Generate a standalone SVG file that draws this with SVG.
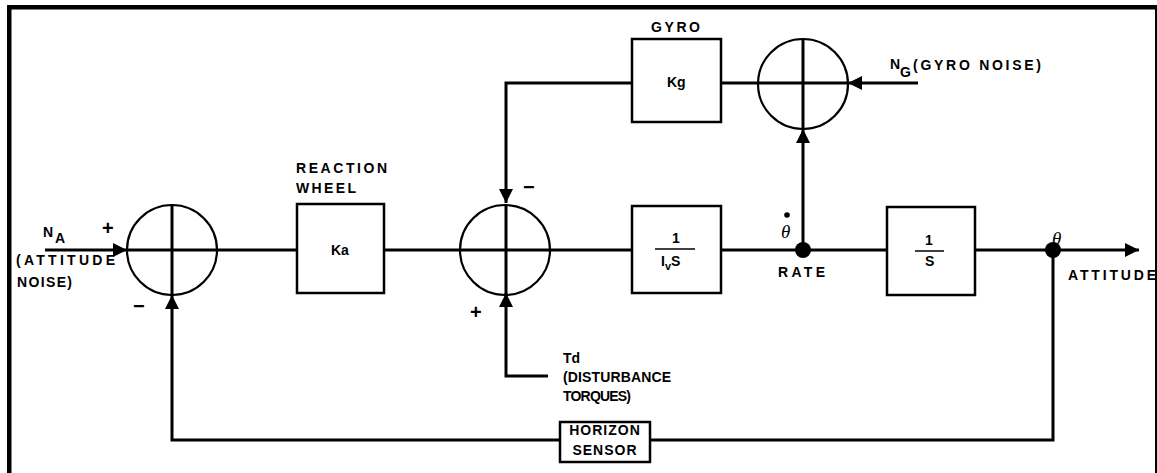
<svg xmlns="http://www.w3.org/2000/svg" width="1157" height="473" viewBox="0 0 1157 473">
<style>
.ln{fill:none;stroke:#000;stroke-width:3}
.bx{fill:#fff;stroke:#000;stroke-width:2.5}
.cr{fill:none;stroke:#000;stroke-width:2.2}
.t{font-family:"Liberation Sans",Arial,sans-serif;font-weight:bold;font-size:14px;fill:#000}
.th{font-family:"Liberation Serif","Times New Roman",serif;font-style:italic;font-size:19px;fill:#000}
.sg{font-family:"Liberation Sans",Arial,sans-serif;font-weight:bold;font-size:20px;fill:#000}
</style>
<defs>
<marker id="ah" markerUnits="userSpaceOnUse" markerWidth="15" markerHeight="14" refX="14" refY="7" orient="auto">
<path d="M0,0 L14,7 L0,14 z" fill="#000"/>
</marker>
</defs>
<rect width="1157" height="473" fill="#fff"/>
<!-- frame -->
<g id="frame">
<rect x="7" y="5" width="1150" height="4.5" fill="#000"/>
<rect x="7" y="5" width="4.5" height="468" fill="#000"/>
<rect x="1155" y="5" width="2" height="468" fill="#000"/>
</g>
<g id="connectors">
<line class="ln" x1="45" y1="250" x2="127" y2="250" marker-end="url(#ah)"/>
<line class="ln" x1="217" y1="250" x2="296" y2="250"/>
<line class="ln" x1="384" y1="250" x2="460" y2="250"/>
<line class="ln" x1="550" y1="250" x2="632" y2="250"/>
<line class="ln" x1="721" y1="250" x2="887" y2="250"/>
<line class="ln" x1="975" y1="250" x2="1139" y2="250" marker-end="url(#ah)"/>
<line class="ln" x1="803" y1="250" x2="803" y2="129" marker-end="url(#ah)"/>
<line class="ln" x1="918" y1="83" x2="848" y2="83" marker-end="url(#ah)"/>
<line class="ln" x1="758" y1="83" x2="721" y2="83"/>
<polyline class="ln" points="632,83 506,83 506,203" marker-end="url(#ah)"/>
<polyline class="ln" points="548,376 506,376 506,293" marker-end="url(#ah)"/>
<polyline class="ln" points="1053,250 1053,440 650,440"/>
<polyline class="ln" points="560,440 172,440 172,295" marker-end="url(#ah)"/>
</g>
<g id="sum1">
<circle class="cr" cx="172" cy="250" r="45"/>
<line class="ln" x1="172" y1="205" x2="172" y2="295"/>
<line class="ln" x1="127" y1="250" x2="217" y2="250"/>
</g>
<g id="sum2">
<circle class="cr" cx="505" cy="250" r="45"/>
<line class="ln" x1="506" y1="205" x2="506" y2="295"/>
<line class="ln" x1="460" y1="250" x2="550" y2="250"/>
</g>
<g id="sum3">
<circle class="cr" cx="803" cy="84" r="45"/>
<line class="ln" x1="803" y1="39" x2="803" y2="129"/>
<line class="ln" x1="758" y1="83" x2="848" y2="83"/>
</g>
<g id="reaction-wheel">
<rect class="bx" x="297" y="204" width="87" height="89"/>
<text class="t" x="296" y="173" textLength="91" lengthAdjust="spacing">REACTION</text>
<text class="t" x="296" y="193" textLength="60" lengthAdjust="spacing">WHEEL</text>
<text class="t" x="331" y="255">Ka</text>
</g>
<g id="plant">
<rect class="bx" x="632" y="206" width="89" height="87"/>
<text class="t" x="672" y="243">1</text>
<line x1="655" y1="249" x2="695" y2="249" stroke="#000" stroke-width="1.5"/>
<text class="t" x="661" y="266">I<tspan font-size="11" dy="4">v</tspan><tspan dy="-4">S</tspan></text>
</g>
<g id="integrator">
<rect class="bx" x="887" y="207" width="88" height="88"/>
<text class="t" x="925" y="245">1</text>
<line x1="915" y1="251" x2="944" y2="251" stroke="#000" stroke-width="1.5"/>
<text class="t" x="925" y="266">S</text>
</g>
<g id="gyro">
<rect class="bx" x="632" y="39" width="89" height="83"/>
<text class="t" x="651" y="32" textLength="49" lengthAdjust="spacing">GYRO</text>
<text class="t" x="667" y="87">Kg</text>
</g>
<g id="horizon-sensor">
<rect class="bx" x="560" y="422" width="90" height="40"/>
<text class="t" x="605" y="435" text-anchor="middle" letter-spacing="1">HORIZON</text>
<text class="t" x="605" y="455" text-anchor="middle" letter-spacing="1">SENSOR</text>
</g>
<g id="rate-node">
<circle cx="803" cy="250" r="8" fill="#000"/>
<circle cx="787" cy="215" r="2.8" fill="#000"/>
<text class="th" x="781" y="238">θ</text>
<text class="t" x="778" y="277" textLength="47" lengthAdjust="spacing">RATE</text>
</g>
<g id="attitude-node">
<circle cx="1053" cy="250" r="8" fill="#000"/>
<text class="th" x="1052" y="245">θ</text>
<text class="t" x="1068" y="280" textLength="88" lengthAdjust="spacing">ATTITUDE</text>
</g>
<g id="labels">
<text class="t" x="43" y="237" font-size="11">N</text>
<text class="t" x="55" y="243">A</text>
<text class="t" x="16" y="265" textLength="99" lengthAdjust="spacing">(ATTITUDE</text>
<text class="t" x="17" y="287" textLength="55" lengthAdjust="spacing">NOISE)</text>
<text class="sg" x="102" y="235">+</text>
<text class="sg" x="133" y="313">−</text>
<text class="sg" x="523" y="194">−</text>
<text class="sg" x="470" y="319">+</text>
<text class="t" x="563" y="363">Td</text>
<text class="t" x="563" y="382" textLength="108" lengthAdjust="spacing">(DISTURBANCE</text>
<text class="t" x="563" y="401" textLength="68" lengthAdjust="spacing">TORQUES)</text>
<text class="t" x="890" y="69" font-size="11">N</text>
<text class="t" x="900" y="77">G</text>
<text class="t" x="913" y="70" textLength="128" lengthAdjust="spacing">(GYRO NOISE)</text>
</g>
</svg>
